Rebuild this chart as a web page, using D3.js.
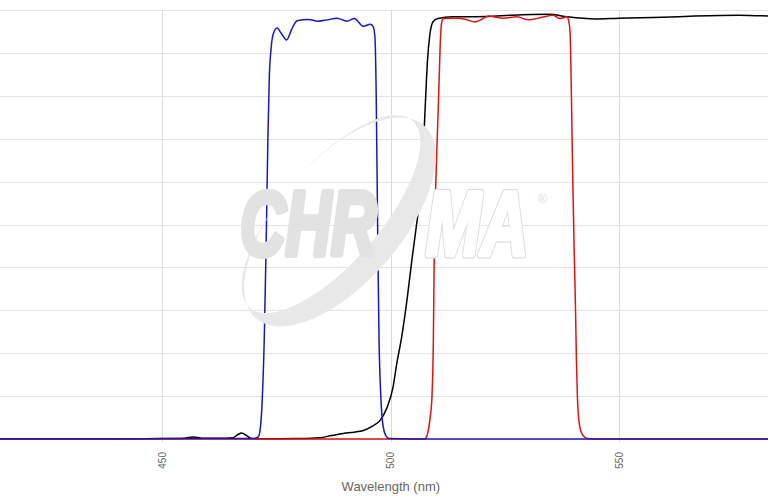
<!DOCTYPE html>
<html>
<head>
<meta charset="utf-8">
<script src="https://cdn.jsdelivr.net/npm/d3@7"></script>
<style>
  body { margin: 0; background: #fff; }
  svg { display: block; font-family: "Liberation Sans", Arial, sans-serif; }
  .grid line { stroke: #e2e2e2; stroke-width: 1; shape-rendering: crispEdges; }
  .grid-x line { stroke: #dadada; }
  .tick-label { font-size: 10px; fill: #666; }
  .axis-title { font-size: 13px; fill: #666; }
  .trace { fill: none; stroke-width: 1.5; stroke-linejoin: round; }
  .wm-text { font-size: 90px; font-weight: bold; font-style: italic; stroke-linejoin: round; }
</style>
</head>
<body>
<svg id="chart"></svg>
<script>
// Transmission (%) by wavelength (nm)
const excitation = [
  [414.5,0],[440,0],[455,0.1],[465,0.1],[470,0.1],[471.0,0.5],[471.5,3],[471.9,10],[472.3,23],
  [472.7,44],[473.1,70],[473.4,84],[473.8,91],[474.3,94.5],[475.1,95.8],[476.0,94.6],[477.2,93],
  [478.3,95.5],[479.5,97.5],[481.9,97.8],[484.1,97.4],[486.1,97.7],[488.2,98.1],[490.4,97.4],
  [492.0,98.0],[494.0,96.2],[495.5,96.7],[496.1,96.2],[496.5,94],[496.8,80],[497.1,50],[497.4,24],
  [497.8,10],[498.3,3],[498.9,0.8],[499.6,0.1],[505,0],[582.5,0]
];
const dichroic = [
  [414.5,0.05],[440,0.05],[450,0.1],[455,0.2],[456.7,0.45],[458.5,0.2],[462,0.15],[465.5,0.3],
  [466.5,1.0],[467.4,1.4],[468.3,0.9],[469.3,0.2],[470.5,0.05],[475,0.05],[480,0.1],[484.5,0.3],
  [487,0.8],[489.6,1.3],[492,1.6],[494,2.0],[495.8,2.9],[497.7,4.4],[499.1,7.2],[500.5,12.2],
  [501.2,17],[502.4,24],[503.6,33],[504.6,41.7],[505.5,49],[506.4,57],[507.0,66],[507.5,77],
  [508.0,88],[508.5,94],[509.2,97.2],[510.3,98],[513.6,98.4],[521,98.5],[526.5,98.8],[534.6,99],
  [538.6,98.4],[544.7,97.9],[549.9,98.1],[559.4,98.3],[566.6,98.6],[576.1,98.8],[582.5,98.6]
];
const emission = [
  [414.5,0],[500,0],[507.3,0],[507.7,0.3],[508.2,2],[508.6,5],[509.0,10],[509.3,23],[509.5,44],
  [509.9,62],[510.4,78],[510.8,92],[511.1,97],[511.5,98],[514.4,98.1],[516.5,97.8],[518.4,97.2],
  [520,97.9],[521.4,98.6],[523,98.3],[524.6,98.1],[527.6,98.4],[530.1,97.7],[533,98.3],[535.5,98.8],
  [537,98.0],[538.5,98.4],[538.9,97.5],[539.2,95],[539.5,80],[539.8,60],[540.1,44],[540.4,30],
  [540.6,18],[540.8,10],[541.2,3.7],[541.9,1],[543,0.1],[545,0],[582.5,0]
];
const xTicks = [450, 500, 550];
const yTicks = d3.range(0, 101, 10);
const xDomain = [414.5, 582.5];
const yDomain = [0, 100];

class SpectraChart {
  constructor(_config) {
    this.config = {
      parentElement: _config.parentElement,
      containerWidth: 768,
      containerHeight: 501,
      margin: {top: 10, right: 0, bottom: 62, left: 0}
    };
    this.initVis();
  }

  initVis() {
    let vis = this;
    vis.width = vis.config.containerWidth - vis.config.margin.left - vis.config.margin.right;
    vis.height = vis.config.containerHeight - vis.config.margin.top - vis.config.margin.bottom;

    vis.svg = d3.select(vis.config.parentElement)
      .attr('width', vis.config.containerWidth)
      .attr('height', vis.config.containerHeight);

    vis.chart = vis.svg.append('g')
      .attr('transform', `translate(${vis.config.margin.left},${vis.config.margin.top})`);

    vis.xScale = d3.scaleLinear().domain(xDomain).range([0, vis.width]);
    vis.yScale = d3.scaleLinear().domain(yDomain).range([vis.height, 0]);

    vis.drawWatermark();
    vis.renderVis();
  }

  drawWatermark() {
    let vis = this;
    const wm = vis.svg.append('g').attr('class', 'watermark');

    // tilted swoosh: outer ellipse minus an inner one shifted up-left
    const ell = (cx, cy, a, b) => `M${cx - a},${cy}a${a},${b} 0 1,0 ${2 * a},0a${a},${b} 0 1,0 ${-2 * a},0Z`;
    wm.append('path')
      .attr('transform', 'translate(340,222) rotate(-49)')
      .attr('d', ell(0, 0, 128, 61) + ell(0, -12, 124, 49))
      .attr('fill-rule', 'evenodd')
      .attr('fill', '#e8e8e8');

    // solid part of the logotype, squeezed and thickened with a stroke
    wm.append('text')
      .attr('class', 'wm-text')
      .attr('transform', 'translate(240,255) scale(0.70,1)')
      .attr('fill', '#e2e2e2').attr('stroke', '#e2e2e2').attr('stroke-width', 6)
      .text('CHR');

    // outlined part: wide grey stroke, then a white fill on top
    const ma = [
      {stroke: '#dcdcdc', width: 7, fill: '#dcdcdc'},
      {stroke: '#ffffff', width: 4.5, fill: '#ffffff'}
    ];
    wm.selectAll('.wm-ma')
      .data(ma)
      .join('text')
      .attr('class', 'wm-text wm-ma')
      .attr('transform', 'translate(426,255) scale(0.73,1)')
      .attr('fill', d => d.fill).attr('stroke', d => d.stroke).attr('stroke-width', d => d.width)
      .text('MA');

    wm.append('text')
      .attr('x', 538).attr('y', 203)
      .style('font-size', '12px')
      .attr('fill', '#e0e0e0')
      .text('®');
  }

  renderVis() {
    let vis = this;

    // horizontal grid
    vis.chart.append('g').attr('class', 'grid')
      .selectAll('line')
      .data(yTicks)
      .join('line')
      .attr('x1', 0).attr('x2', vis.width)
      .attr('y1', d => Math.round(vis.yScale(d)) + 0.5)
      .attr('y2', d => Math.round(vis.yScale(d)) + 0.5);

    // vertical grid
    vis.chart.append('g').attr('class', 'grid grid-x')
      .selectAll('line')
      .data(xTicks)
      .join('line')
      .attr('x1', d => Math.round(vis.xScale(d)) + 0.5)
      .attr('x2', d => Math.round(vis.xScale(d)) + 0.5)
      .attr('y1', 0).attr('y2', vis.height + 3);

    // rotated tick labels
    vis.chart.append('g')
      .selectAll('text')
      .data(xTicks)
      .join('text')
      .attr('class', 'tick-label')
      .attr('transform', d => `translate(${vis.xScale(d)},${vis.height + 13}) rotate(-90)`)
      .attr('text-anchor', 'end')
      .attr('dy', '0.35em')
      .text(d => d);

    vis.svg.append('text')
      .attr('class', 'axis-title')
      .attr('x', vis.xScale(500))
      .attr('y', 491)
      .attr('text-anchor', 'middle')
      .text('Wavelength (nm)');

    const line = d3.line()
      .x(d => vis.xScale(d[0]))
      .y(d => vis.yScale(d[1]))
      .curve(d3.curveMonotoneX);

    const traces = [
      {data: dichroic, color: '#000000'},
      {data: emission, color: '#e31212'},
      {data: excitation, color: '#1818c0'}
    ];

    vis.chart.selectAll('.trace')
      .data(traces)
      .join('path')
      .attr('class', 'trace')
      .attr('stroke', d => d.color)
      .attr('d', d => line(d.data));
  }
}

new SpectraChart({parentElement: '#chart'});
</script>
</body>
</html>
